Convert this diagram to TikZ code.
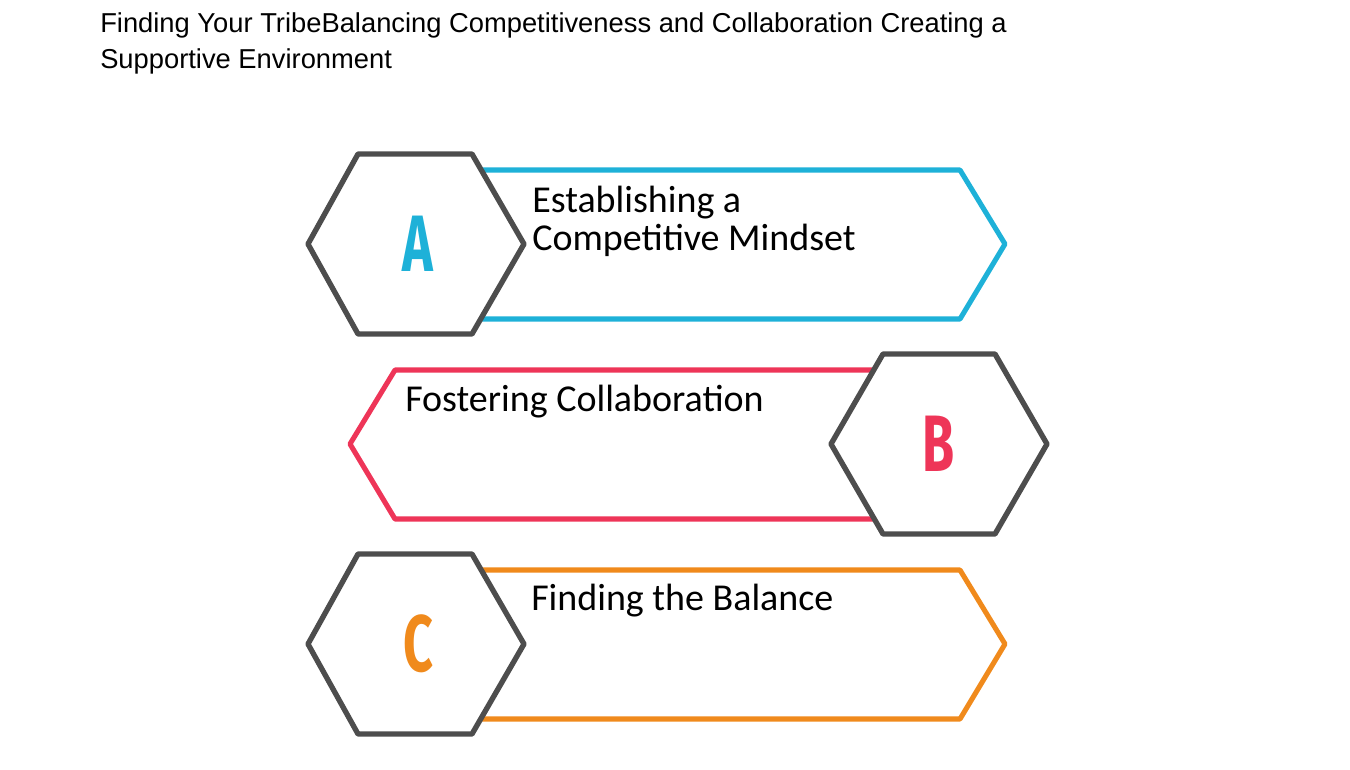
\documentclass[tikz,border=0pt]{standalone}
\usepackage{fontspec}
\setmainfont{Liberation Sans}
\newfontfamily\lblfont{Carlito}
\newfontfamily\letterfont{Fira Sans}
\definecolor{cblue}{HTML}{1EB1D8}
\definecolor{cred}{HTML}{EE3558}
\definecolor{corange}{HTML}{F08A1C}
\definecolor{cgray}{HTML}{4D4D4D}
\begin{document}
\begin{tikzpicture}[x=0.75pt,y=-0.75pt,
  band/.style={line width=3.8pt,line join=round,fill=white},
  hex/.style={draw=cgray,line width=4pt,line join=round,fill=white},
  lbltext/.style={anchor=base west,inner sep=0pt,font=\lblfont\fontsize{28.5}{34}\selectfont},
  letter/.style={font=\letterfont\bfseries\fontsize{60}{60}\selectfont,xscale=0.65,inner sep=0pt}]
\useasboundingbox (0,0) rectangle (1350,769);
\node[anchor=north west,inner sep=0pt,font=\fontsize{20.5}{27}\selectfont,align=left] (title) at (100,12)
 {Finding Your TribeBalancing Competitiveness and Collaboration Creating a\\Supportive Environment};
% A
\draw[band,draw=cblue] (440,170) -- (960,170) -- (1005,244) -- (960,319) -- (440,319);
\draw[hex] (308,244) -- (358,154) -- (472,154) -- (524,244) -- (472,334) -- (358,334) -- cycle;
\node[letter,text=cblue] (la) at (418,244) {A};
\node[lbltext] (ta1) at (532,212) {Establishing a};
\node[lbltext] (ta2) at (532,250) {Competitive Mindset};
% B
\draw[band,draw=cred] (900,370) -- (395,370) -- (350,444) -- (395,519) -- (900,519);
\draw[hex] (831,444) -- (883,354) -- (995,354) -- (1047,444) -- (995,534) -- (883,534) -- cycle;
\node[letter,text=cred] (lb) at (939,444) {B};
\node[lbltext] (tb) at (405,411) {Fostering Collaboration};
% C
\draw[band,draw=corange] (440,570) -- (960,570) -- (1005,644) -- (960,719) -- (440,719);
\draw[hex] (308,644) -- (358,554) -- (472,554) -- (524,644) -- (472,734) -- (358,734) -- cycle;
\node[letter,text=corange] (lc) at (418,644) {C};
\node[lbltext] (tc) at (531,610) {Finding the Balance};
\end{tikzpicture}
\end{document}
